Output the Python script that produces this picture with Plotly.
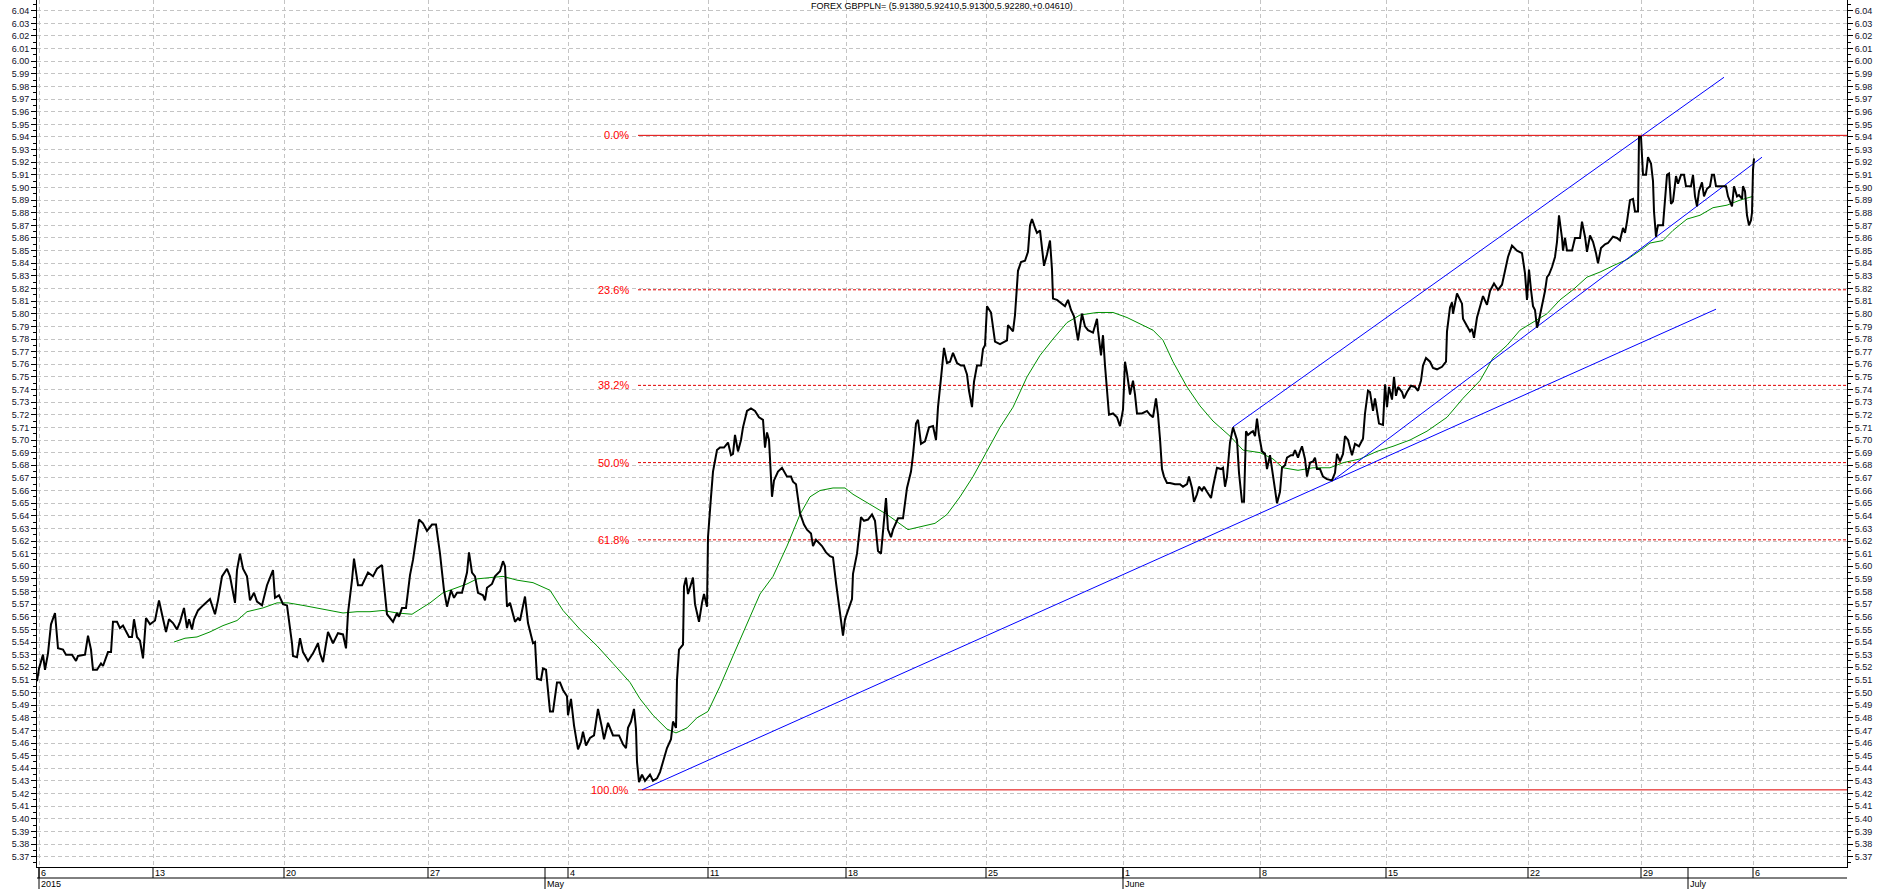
import plotly.graph_objects as go

# ---------------- data ----------------
title_text = "FOREX GBPPLN= (5.91380,5.92410,5.91300,5.92280,+0.04610)"

# bar index (trading-time position) and close price
price_bar = [0, 2, 6, 8, 11, 14, 18, 21, 26, 29, 35, 39, 41, 48, 51, 54, 56, 60, 64, 66, 71, 74, 76, 80, 83, 86, 92, 95, 97, 100,
             103, 106, 109, 113, 118, 122, 125, 129, 132, 136, 140, 143, 147, 150, 152, 155, 157, 161, 166, 173, 178, 181, 185, 190,
             193, 198, 200, 203, 206, 210, 213, 217, 220, 225, 230, 236, 238, 242, 246, 250, 255, 256, 260, 263, 266, 271, 276, 281,
             283, 286, 291, 296, 301, 306, 309, 311, 315, 317, 321, 325, 331, 336, 340, 345, 350, 356, 360, 362, 365, 369, 373, 376,
             382, 386, 390, 395, 399, 403, 407, 410, 414, 417, 420, 425, 430, 432, 435, 438, 441, 446, 448, 450, 455, 458, 463, 466,
             468, 470, 473, 476, 478, 481, 483, 488, 491, 496, 498, 500, 504, 506, 509, 513, 516, 520, 523, 526, 530, 531, 534, 537,
             541, 544, 546, 549, 553, 557, 561, 565, 567, 571, 576, 582, 586, 589, 591, 594, 597, 599, 600, 602, 605, 608, 613, 616,
             620, 623, 626, 630, 634, 636, 639, 640, 642, 646, 647, 649, 651, 656, 658, 662, 665, 667, 670, 671, 674, 676, 680, 683,
             687, 691, 694, 696, 698, 701, 704, 706, 710, 714, 718, 722, 726, 728, 730, 732, 735, 737, 741, 745, 750, 754, 756, 759,
             763, 767, 770, 774, 776, 779, 785, 789, 793, 796, 799, 803, 806, 808, 810, 815, 816, 820, 824, 827, 831, 835, 838, 841,
             844, 846, 849, 851, 854, 856, 861, 866, 870, 874, 876, 879, 881, 884, 888, 892, 896, 899, 901, 904, 907, 910, 913, 916,
             920, 924, 927, 930, 932, 935, 937, 940, 944, 946, 948, 950, 954, 958, 963, 970, 971, 976, 978, 981, 984, 988, 991, 993,
             995, 998, 1000, 1003, 1005, 1007, 1010, 1013, 1015, 1016, 1020, 1025, 1028, 1031, 1034, 1037, 1039, 1041, 1045, 1048,
             1051, 1056, 1060, 1061, 1064, 1066, 1068, 1070, 1072, 1076, 1080, 1083, 1086, 1088, 1090, 1093, 1096, 1098, 1100, 1105,
             1110, 1113, 1116, 1119, 1121, 1123, 1125, 1127, 1130, 1133, 1138, 1143, 1146, 1150, 1152, 1155, 1157, 1160, 1162, 1165,
             1167, 1170, 1174, 1176, 1180, 1184, 1186, 1188, 1190, 1193, 1196, 1200, 1202, 1205, 1207, 1209, 1211, 1214, 1216, 1218,
             1220, 1222, 1225, 1228, 1230, 1233, 1236, 1238, 1240, 1243, 1245, 1248, 1250, 1254, 1256, 1258, 1261, 1263, 1265, 1268,
             1270, 1273, 1276, 1278, 1280, 1283, 1286, 1290, 1295, 1298, 1300, 1303, 1306, 1308, 1311, 1315, 1318, 1322, 1326, 1328,
             1331, 1333, 1336, 1338, 1340, 1342, 1346, 1348, 1350, 1352, 1355, 1357, 1359, 1361, 1365, 1367, 1370, 1374, 1378, 1381,
             1384, 1386, 1389, 1393, 1396, 1400, 1405, 1409, 1410, 1413, 1415, 1416, 1420, 1425, 1426, 1430, 1433, 1435, 1437, 1440,
             1443, 1446, 1450, 1453, 1457, 1461, 1465, 1468, 1471, 1475, 1480, 1485, 1488, 1490, 1492, 1494, 1496, 1498, 1500, 1502,
             1505, 1508, 1510, 1512, 1515, 1518, 1520, 1522, 1525, 1526, 1528, 1530, 1535, 1538, 1543, 1545, 1548, 1550, 1553, 1556,
             1559, 1561, 1564, 1568, 1571, 1576, 1580, 1583, 1586, 1588, 1590, 1593, 1596, 1598, 1601, 1602, 1604, 1605, 1606, 1609,
             1611, 1614, 1616, 1617, 1619, 1620, 1621, 1626, 1628, 1630, 1632, 1634, 1636, 1639, 1641, 1644, 1647, 1649, 1654, 1656,
             1658, 1660, 1662, 1665, 1667, 1670, 1673, 1675, 1677, 1679, 1683, 1689, 1691, 1695, 1697, 1700, 1702, 1705, 1706, 1708,
             1710, 1712, 1714, 1715, 1716, 1717]
price_close = [5.509, 5.519, 5.530, 5.518, 5.531, 5.554, 5.563, 5.535, 5.534, 5.530, 5.530, 5.525, 5.529, 5.530, 5.545, 5.534,
               5.518, 5.518, 5.523, 5.521, 5.532, 5.532, 5.556, 5.556, 5.551, 5.553, 5.544, 5.544, 5.558, 5.544, 5.541, 5.527,
               5.559, 5.554, 5.557, 5.573, 5.562, 5.548, 5.558, 5.555, 5.550, 5.556, 5.567, 5.551, 5.558, 5.550, 5.558, 5.565,
               5.569, 5.574, 5.562, 5.573, 5.592, 5.598, 5.592, 5.571, 5.597, 5.610, 5.598, 5.592, 5.573, 5.579, 5.572, 5.569,
               5.585, 5.597, 5.575, 5.577, 5.570, 5.569, 5.539, 5.529, 5.528, 5.543, 5.532, 5.525, 5.531, 5.539, 5.531, 5.524,
               5.548, 5.539, 5.547, 5.546, 5.535, 5.563, 5.589, 5.606, 5.585, 5.585, 5.595, 5.592, 5.598, 5.601, 5.562, 5.556,
               5.563, 5.560, 5.567, 5.567, 5.593, 5.605, 5.637, 5.634, 5.628, 5.633, 5.633, 5.610, 5.581, 5.568, 5.581, 5.575,
               5.579, 5.579, 5.595, 5.611, 5.595, 5.592, 5.579, 5.577, 5.573, 5.583, 5.586, 5.592, 5.596, 5.604, 5.600, 5.568,
               5.571, 5.562, 5.556, 5.559, 5.557, 5.576, 5.555, 5.539, 5.540, 5.511, 5.510, 5.519, 5.518, 5.485, 5.485, 5.508,
               5.508, 5.502, 5.497, 5.482, 5.495, 5.474, 5.455, 5.461, 5.469, 5.458, 5.464, 5.466, 5.487, 5.472, 5.463, 5.476,
               5.466, 5.466, 5.459, 5.456, 5.472, 5.477, 5.487, 5.471, 5.445, 5.429, 5.435, 5.430, 5.435, 5.430, 5.432, 5.437,
               5.445, 5.456, 5.463, 5.477, 5.472, 5.510, 5.534, 5.538, 5.584, 5.591, 5.578, 5.591, 5.570, 5.556, 5.571, 5.578,
               5.568, 5.623, 5.655, 5.675, 5.692, 5.694, 5.694, 5.698, 5.688, 5.689, 5.704, 5.691, 5.700, 5.710, 5.723, 5.725,
               5.723, 5.718, 5.716, 5.694, 5.706, 5.700, 5.655, 5.668, 5.675, 5.678, 5.671, 5.671, 5.667, 5.665, 5.642, 5.633,
               5.629, 5.626, 5.616, 5.621, 5.616, 5.611, 5.608, 5.607, 5.587, 5.561, 5.545, 5.558, 5.563, 5.574, 5.594, 5.610,
               5.639, 5.636, 5.637, 5.641, 5.636, 5.612, 5.610, 5.629, 5.654, 5.629, 5.623, 5.629, 5.638, 5.638, 5.662, 5.675,
               5.688, 5.713, 5.716, 5.697, 5.699, 5.710, 5.711, 5.700, 5.726, 5.749, 5.773, 5.761, 5.762, 5.769, 5.761, 5.759,
               5.759, 5.752, 5.739, 5.726, 5.746, 5.759, 5.759, 5.772, 5.775, 5.806, 5.801, 5.778, 5.776, 5.779, 5.791, 5.786,
               5.799, 5.834, 5.841, 5.842, 5.849, 5.870, 5.875, 5.868, 5.864, 5.866, 5.850, 5.838, 5.847, 5.858, 5.835, 5.812,
               5.811, 5.808, 5.806, 5.811, 5.803, 5.798, 5.787, 5.779, 5.800, 5.790, 5.787, 5.785, 5.796, 5.787, 5.767, 5.783,
               5.759, 5.739, 5.720, 5.721, 5.718, 5.711, 5.724, 5.762, 5.753, 5.736, 5.747, 5.736, 5.721, 5.721, 5.723, 5.720,
               5.718, 5.733, 5.720, 5.701, 5.677, 5.671, 5.666, 5.666, 5.665, 5.665, 5.663, 5.665, 5.671, 5.662, 5.651, 5.657,
               5.663, 5.660, 5.663, 5.659, 5.654, 5.663, 5.678, 5.677, 5.678, 5.663, 5.671, 5.698, 5.710, 5.700, 5.674, 5.651,
               5.651, 5.707, 5.704, 5.706, 5.707, 5.703, 5.717, 5.704, 5.691, 5.689, 5.677, 5.688, 5.671, 5.659, 5.650, 5.659,
               5.678, 5.680, 5.686, 5.688, 5.688, 5.692, 5.686, 5.691, 5.695, 5.685, 5.671, 5.682, 5.683, 5.686, 5.677, 5.677,
               5.671, 5.669, 5.668, 5.674, 5.689, 5.683, 5.689, 5.703, 5.700, 5.688, 5.697, 5.695, 5.701, 5.721, 5.739, 5.738,
               5.723, 5.733, 5.723, 5.713, 5.712, 5.744, 5.726, 5.742, 5.732, 5.750, 5.735, 5.742, 5.738, 5.733, 5.738, 5.743,
               5.742, 5.739, 5.747, 5.759, 5.765, 5.762, 5.757, 5.756, 5.758, 5.762, 5.786, 5.805, 5.809, 5.800, 5.816, 5.808,
               5.796, 5.790, 5.786, 5.788, 5.781, 5.797, 5.806, 5.814, 5.807, 5.818, 5.824, 5.819, 5.823, 5.835, 5.845, 5.854,
               5.850, 5.848, 5.832, 5.811, 5.835, 5.819, 5.806, 5.803, 5.789, 5.795, 5.806, 5.818, 5.829, 5.831, 5.837, 5.845,
               5.857, 5.878, 5.860, 5.850, 5.860, 5.850, 5.850, 5.860, 5.860, 5.873, 5.861, 5.849, 5.862, 5.857, 5.848, 5.840,
               5.852, 5.855, 5.856, 5.861, 5.860, 5.858, 5.868, 5.864, 5.873, 5.890, 5.891, 5.881, 5.881, 5.940, 5.940, 5.918,
               5.910, 5.910, 5.924, 5.919, 5.905, 5.881, 5.861, 5.866, 5.870, 5.870, 5.893, 5.910, 5.911, 5.887, 5.889, 5.909,
               5.903, 5.910, 5.910, 5.901, 5.901, 5.910, 5.893, 5.885, 5.897, 5.904, 5.893, 5.899, 5.901, 5.910, 5.910, 5.901,
               5.901, 5.901, 5.893, 5.885, 5.901, 5.893, 5.894, 5.891, 5.901, 5.897, 5.878, 5.870, 5.874, 5.880, 5.914, 5.923]

# moving average (green)
ma_bar = [137, 148, 160, 173, 186, 200, 210, 226, 240, 251, 266, 286, 306, 320, 333, 346, 360, 375, 385, 393, 406, 420, 430,
          440, 453, 466, 480, 496, 513, 526, 543, 560, 576, 593, 603, 616, 630, 639, 650, 660, 671, 683, 696, 710, 723, 736, 750,
          763, 773, 783, 796, 808, 816, 833, 850, 871, 883, 898, 910, 923, 936, 950, 963, 976, 990, 1003, 1016, 1030, 1043, 1060,
          1076, 1090, 1103, 1116, 1126, 1136, 1150, 1163, 1176, 1193, 1206, 1223, 1236, 1246, 1261, 1276, 1293, 1306, 1323, 1340,
          1356, 1373, 1390, 1410, 1426, 1443, 1456, 1470, 1483, 1496, 1510, 1523, 1536, 1550, 1563, 1576, 1590, 1603, 1613, 1626,
          1636, 1650, 1663, 1676, 1690, 1703, 1716]
ma_value = [5.540, 5.543, 5.544, 5.548, 5.553, 5.557, 5.564, 5.567, 5.571, 5.571, 5.569, 5.566, 5.563, 5.564, 5.564, 5.565,
            5.563, 5.562, 5.567, 5.571, 5.579, 5.583, 5.586, 5.590, 5.591, 5.592, 5.589, 5.587, 5.581, 5.565, 5.550, 5.537,
            5.523, 5.508, 5.495, 5.482, 5.471, 5.468, 5.472, 5.480, 5.485, 5.505, 5.529, 5.555, 5.578, 5.592, 5.616, 5.641,
            5.655, 5.660, 5.662, 5.662, 5.657, 5.649, 5.641, 5.629, 5.631, 5.634, 5.641, 5.655, 5.671, 5.691, 5.710, 5.726,
            5.750, 5.767, 5.780, 5.793, 5.799, 5.801, 5.801, 5.797, 5.792, 5.787, 5.779, 5.762, 5.742, 5.727, 5.715, 5.703,
            5.692, 5.690, 5.685, 5.678, 5.676, 5.678, 5.678, 5.682, 5.685, 5.691, 5.695, 5.700, 5.707, 5.718, 5.733, 5.747,
            5.765, 5.775, 5.787, 5.793, 5.800, 5.811, 5.819, 5.829, 5.833, 5.838, 5.843, 5.850, 5.856, 5.858, 5.866, 5.875,
            5.878, 5.884, 5.886, 5.890, 5.893]

# Fibonacci retracement (swing low -> swing high)
fib_high = 5.9413
fib_low = 5.4229
fib_pcts = [0.0, 23.6, 38.2, 50.0, 61.8, 100.0]
fib_start_bar = 601
fib_label_bar = 594

# trend lines (start/end points)
trend_x0 = [605, 1196, 1296]
trend_y0 = [5.4229, 5.7104, 5.668]
trend_x1 = [1679, 1687, 1725]
trend_y1 = [5.8036, 5.9873, 5.924]

# time axis
x_end = 1810
week_bars = [2, 116, 247, 391, 531, 671, 809, 949, 1086, 1223, 1349, 1491, 1604, 1716]
week_labels = ["6", "13", "20", "27", "4", "11", "18", "25", "1", "8", "15", "22", "29", "6"]
month_bars = [2, 508, 1086, 1651]
month_labels = ["2015", "May", "June", "July"]

y_min, y_max = 5.3618, 6.0485

# ---------------- figure ----------------
FONT = "Liberation Sans, Arial, sans-serif"
fig = go.Figure()

# Fibonacci lines
fib_levels = [fib_high - p / 100.0 * (fib_high - fib_low) for p in fib_pcts]
for p, lvl in zip(fib_pcts, fib_levels):
    solid = p in (0.0, 100.0)
    fig.add_trace(go.Scatter(
        x=[fib_start_bar, x_end], y=[lvl, lvl], mode="lines",
        line=dict(color="#e00000", width=1, dash="solid" if solid else "3px,2px"),
        hoverinfo="skip", showlegend=False))
    fig.add_annotation(x=fib_label_bar, y=lvl, xref="x", yref="y", text=f"{p:.1f}%",
                       showarrow=False, xanchor="right", yanchor="middle",
                       font=dict(family=FONT, size=11, color="#ff0000"))

# moving average
fig.add_trace(go.Scatter(x=ma_bar, y=ma_value, mode="lines",
                         line=dict(color="#009000", width=1), hoverinfo="skip", showlegend=False))

# trend lines
for x0, y0, x1, y1 in zip(trend_x0, trend_y0, trend_x1, trend_y1):
    fig.add_trace(go.Scatter(x=[x0, x1], y=[y0, y1], mode="lines",
                             line=dict(color="#0000ff", width=1), hoverinfo="skip", showlegend=False))

# price
fig.add_trace(go.Scatter(x=price_bar, y=price_close, mode="lines",
                         line=dict(color="#000000", width=2), hoverinfo="skip", showlegend=False))

# invisible trace for right axis
fig.add_trace(go.Scatter(x=[price_bar[0]], y=[price_close[0]], yaxis="y2", mode="markers",
                         marker=dict(opacity=0), hoverinfo="skip", showlegend=False))

# title
fig.add_annotation(x=0.5, y=1, xref="paper", yref="paper", text=title_text, showarrow=False,
                   xanchor="center", yanchor="top", yshift=1,
                   font=dict(family=FONT, size=9, color="#000000"))

# date row labels and separators
for b, lab in zip(week_bars, week_labels):
    fig.add_annotation(x=b, y=0, xref="x", yref="paper", text=lab, showarrow=False,
                       xanchor="left", yanchor="middle", yshift=-6, xshift=0,
                       font=dict(family=FONT, size=9, color="#000000"))
    fig.add_shape(type="line", xref="x", yref="paper", x0=b, x1=b, ysizemode="pixel", yanchor=0,
                  y0=0, y1=-11, line=dict(color="#000000", width=1))
for b, lab in zip(month_bars, month_labels):
    fig.add_annotation(x=b, y=0, xref="x", yref="paper", text=lab, showarrow=False,
                       xanchor="left", yanchor="middle", yshift=-17, xshift=0,
                       font=dict(family=FONT, size=9, color="#000000"))
    fig.add_shape(type="line", xref="x", yref="paper", x0=b, x1=b, ysizemode="pixel", yanchor=0,
                  y0=0, y1=-22, line=dict(color="#000000", width=1))
fig.add_shape(type="line", xref="paper", yref="paper", x0=0, x1=1, ysizemode="pixel", yanchor=0,
              y0=-11, y1=-11, line=dict(color="#000000", width=1))

yaxis_common = dict(
    range=[y_min, y_max], tick0=5.37, dtick=0.01, tickformat=".2f",
    ticks="outside", ticklen=5, tickcolor="#000000", tickwidth=1,
    showline=True, linecolor="#000000", linewidth=1,
    tickfont=dict(family=FONT, size=9, color="#101028"),
    zeroline=False,
    minor=dict(dtick=0.005, tick0=5.37, ticks="outside", ticklen=3, tickcolor="#000000", showgrid=False),
)

fig.update_layout(
    width=1883, height=889,
    margin=dict(l=37, r=36, t=0, b=22, pad=0),
    paper_bgcolor="#ffffff", plot_bgcolor="#ffffff",
    showlegend=False,
    xaxis=dict(range=[0, x_end], tickvals=week_bars, showticklabels=False, ticks="",
               showgrid=True, gridcolor="#c4c4c4", griddash="4px,3px", gridwidth=1,
               showline=True, linecolor="#000000", linewidth=1, zeroline=False, fixedrange=True),
    yaxis=dict(**yaxis_common, side="left", showgrid=True, gridcolor="#c4c4c4",
               griddash="4px,3px", gridwidth=1),
    yaxis2=dict(**yaxis_common, side="right", overlaying="y", matches="y", showgrid=False),
)

fig.write_html("out.html")
